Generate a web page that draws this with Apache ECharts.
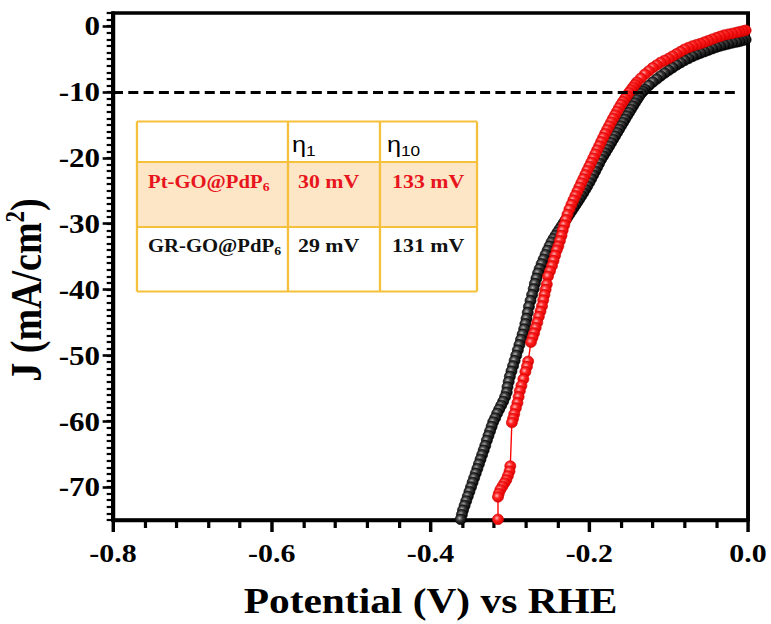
<!DOCTYPE html>
<html>
<head>
<meta charset="utf-8">
<script src="https://cdn.jsdelivr.net/npm/echarts@6/dist/echarts.min.js"></script>
<style>
  html, body { margin: 0; padding: 0; background: #fff; overflow: hidden; }
  /* the figure is laid out on a narrower canvas and widened horizontally */
  #chart { width: 670.4px; height: 624px; transform: scaleX(1.15); transform-origin: 0 0; }
</style>
</head>
<body>
<div id="chart"></div>
<script>
// Tick labels
const xTickValues = [-0.8, -0.6, -0.4, -0.2, 0.0];
const yTickValues = [-70, -60, -50, -40, -30, -20, -10, 0];

// Reference current density for the overpotential at 10 mA/cm2
const refCurrent = -10;
const refLineEnd = -0.0125;

// LSV scan, Pt-GO@PdP6: [potential (V vs RHE), J (mA/cm2)]
const scanPt = [
  [-0.003,-0.62],[-0.007,-0.75],[-0.011,-0.86],[-0.015,-0.97],[-0.020,-1.10],[-0.025,-1.22],
  [-0.030,-1.35],[-0.035,-1.55],[-0.040,-1.75],[-0.045,-1.97],[-0.050,-2.20],[-0.055,-2.42],
  [-0.060,-2.65],[-0.065,-2.82],[-0.070,-3.00],[-0.075,-3.25],[-0.080,-3.50],[-0.085,-3.85],
  [-0.090,-4.20],[-0.095,-4.55],[-0.100,-4.90],[-0.105,-5.20],[-0.110,-5.50],[-0.115,-5.90],
  [-0.120,-6.30],[-0.125,-6.80],[-0.130,-7.30],[-0.135,-7.90],[-0.140,-8.50],[-0.1425,-8.90],
  [-0.145,-9.30],[-0.1475,-9.70],[-0.150,-10.10],[-0.1525,-10.55],[-0.155,-11.00],[-0.1575,-11.45],
  [-0.160,-11.90],[-0.1625,-12.42],[-0.165,-12.95],[-0.1675,-13.48],[-0.170,-14.00],[-0.1725,-14.58],
  [-0.175,-15.15],[-0.1775,-15.72],[-0.180,-16.30],[-0.1825,-16.92],[-0.185,-17.55],[-0.1875,-18.18],
  [-0.190,-18.80],[-0.1925,-19.42],[-0.195,-20.05],[-0.1975,-20.68],[-0.200,-21.30],[-0.2025,-21.92],
  [-0.205,-22.55],[-0.2075,-23.18],[-0.210,-23.80],[-0.2125,-24.45],[-0.215,-25.10],[-0.2175,-25.75],
  [-0.220,-26.40],[-0.2225,-27.10],[-0.225,-27.80],[-0.2275,-28.60],[-0.2295,-29.40],[-0.2315,-30.20],
  [-0.2335,-31.00],[-0.235,-31.80],[-0.237,-32.60],[-0.239,-33.40],[-0.241,-34.00],[-0.243,-34.80],
  [-0.245,-35.60],[-0.247,-36.40],[-0.2495,-37.20],[-0.252,-38.00],[-0.2535,-39.20],[-0.255,-40.00],
  [-0.2565,-40.80],[-0.258,-41.60],[-0.2595,-42.50],[-0.2615,-43.30],[-0.2635,-44.10],[-0.2655,-45.00],
  [-0.2675,-45.80],[-0.2695,-46.60],[-0.2715,-47.30],[-0.2735,-48.00],[-0.277,-50.90],[-0.2785,-51.70],
  [-0.2805,-52.50],[-0.283,-53.60],[-0.2855,-54.60],[-0.2875,-55.40],[-0.289,-56.30],[-0.2905,-57.20],
  [-0.2925,-58.00],[-0.2945,-58.90],[-0.296,-59.60],[-0.2975,-60.20],[-0.2995,-66.80],[-0.3005,-67.60],
  [-0.3025,-68.30],[-0.3045,-68.90],[-0.307,-69.40],[-0.3095,-69.90],[-0.312,-70.40],[-0.314,-71.00],
  [-0.315,-71.50],[-0.315,-74.90]
];

// LSV scan, GR-GO@PdP6: [potential (V vs RHE), J (mA/cm2)]
const scanGr = [
  [-0.003,-2.05],[-0.007,-2.18],[-0.011,-2.32],[-0.015,-2.42],[-0.020,-2.55],[-0.025,-2.70],
  [-0.030,-2.85],[-0.035,-3.02],[-0.040,-3.20],[-0.045,-3.42],[-0.050,-3.65],[-0.055,-3.88],
  [-0.060,-4.10],[-0.065,-4.35],[-0.070,-4.60],[-0.075,-4.90],[-0.080,-5.20],[-0.085,-5.55],
  [-0.090,-5.90],[-0.095,-6.30],[-0.100,-6.70],[-0.105,-7.12],[-0.110,-7.56],[-0.115,-8.03],
  [-0.120,-8.50],[-0.125,-9.02],[-0.130,-9.60],[-0.1325,-9.92],[-0.135,-10.25],[-0.1375,-10.70],
  [-0.140,-11.17],[-0.1425,-11.65],[-0.145,-12.14],[-0.1475,-12.64],[-0.150,-13.14],[-0.1525,-13.64],
  [-0.155,-14.14],[-0.1575,-14.65],[-0.160,-15.16],[-0.1625,-15.67],[-0.165,-16.18],[-0.1675,-16.69],
  [-0.170,-17.20],[-0.1725,-17.71],[-0.175,-18.22],[-0.1775,-18.73],[-0.180,-19.24],[-0.1825,-19.72],
  [-0.185,-20.22],[-0.1875,-20.82],[-0.190,-21.42],[-0.1925,-22.02],[-0.195,-22.60],[-0.1975,-23.18],
  [-0.200,-23.74],[-0.2025,-24.28],[-0.205,-24.80],[-0.2075,-25.30],[-0.210,-25.78],[-0.2125,-26.25],
  [-0.215,-26.72],[-0.2175,-27.18],[-0.220,-27.64],[-0.2225,-28.10],[-0.225,-28.56],[-0.2275,-29.02],
  [-0.230,-29.48],[-0.2325,-29.94],[-0.235,-30.40],[-0.2375,-30.86],[-0.240,-31.32],[-0.2425,-31.80],
  [-0.245,-32.28],[-0.2475,-32.80],[-0.250,-33.40],[-0.2525,-34.05],[-0.255,-34.70],[-0.2575,-35.40],
  [-0.260,-36.10],[-0.2625,-36.85],[-0.2645,-37.50],[-0.2665,-38.30],[-0.2685,-39.10],[-0.270,-39.90],
  [-0.272,-40.80],[-0.274,-41.70],[-0.276,-42.60],[-0.2775,-43.50],[-0.279,-44.40],[-0.2805,-45.20],
  [-0.282,-46.00],[-0.284,-46.80],[-0.286,-47.60],[-0.288,-48.40],[-0.290,-49.20],[-0.292,-50.00],
  [-0.294,-50.80],[-0.296,-51.60],[-0.298,-52.40],[-0.300,-53.20],[-0.3015,-54.00],[-0.303,-54.80],
  [-0.304,-55.60],[-0.306,-56.30],[-0.3085,-57.00],[-0.311,-57.60],[-0.3135,-58.20],[-0.316,-58.80],
  [-0.3185,-59.50],[-0.321,-60.10],[-0.323,-60.80],[-0.325,-61.50],[-0.327,-62.20],[-0.329,-62.90],
  [-0.331,-63.70],[-0.333,-64.40],[-0.335,-65.10],[-0.337,-65.80],[-0.339,-66.50],[-0.341,-67.20],
  [-0.343,-67.90],[-0.345,-68.60],[-0.347,-69.30],[-0.349,-70.00],[-0.351,-70.70],[-0.353,-71.40],
  [-0.355,-72.10],[-0.357,-72.80],[-0.359,-73.50],[-0.3605,-74.20],[-0.362,-74.90]
];

// Overpotential table
const tableHeader = ['', '1', '10'];
const tableRows = [
  { name: 'Pt-GO@PdP', sub: '6', eta1: '30 mV', eta10: '133 mV', color: '#e8151c' },
  { name: 'GR-GO@PdP', sub: '6', eta1: '29 mV', eta10: '131 mV', color: '#111111' }
];

const SERIF = 'Liberation Serif';
const SANS = 'Liberation Sans';

function ball(light, mid, dark) {
  return {
    type: 'radial', x: 0.4, y: 0.38, r: 0.65,
    colorStops: [
      { offset: 0, color: light },
      { offset: 0.4, color: mid },
      { offset: 1, color: dark }
    ]
  };
}

// table geometry
const tx = [119.1, 250.4, 330.4, 414.8];
const ty = [121.5, 162, 227, 291.5];
const borderColor = '#f5c03c';

const tableGraphics = [];
tableGraphics.push({ type: 'rect', shape: { x: tx[0], y: ty[0], width: tx[3] - tx[0], height: ty[3] - ty[0] }, style: { fill: '#ffffff' }, z: 10 });
tableGraphics.push({ type: 'rect', shape: { x: tx[0], y: ty[1], width: tx[3] - tx[0], height: ty[2] - ty[1] }, style: { fill: '#fde6c6' }, z: 11 });
ty.forEach(function (y) {
  tableGraphics.push({ type: 'line', shape: { x1: tx[0], y1: y, x2: tx[3], y2: y }, style: { stroke: borderColor, lineWidth: 2 }, z: 12 });
});
tx.forEach(function (x) {
  tableGraphics.push({ type: 'line', shape: { x1: x, y1: ty[0], x2: x, y2: ty[3] }, style: { stroke: borderColor, lineWidth: 2 }, z: 12 });
});
// header: eta with subscripts
[[253.9, tableHeader[1]], [336.5, tableHeader[2]]].forEach(function (h) {
  tableGraphics.push({
    type: 'text', x: h[0], y: 145, z: 13,
    style: {
      text: '{e|η}{s|' + h[1] + '}',
      verticalAlign: 'middle', align: 'left',
      rich: {
        e: { fontFamily: SANS, fontSize: 22, lineHeight: 26, fill: '#000' },
        s: { fontFamily: SANS, fontSize: 15, lineHeight: 15, verticalAlign: 'bottom', fill: '#000' }
      }
    }
  });
});
const rowY = [182, 246];
tableRows.forEach(function (r, i) {
  const y = rowY[i];
  tableGraphics.push({
    type: 'text', x: 128.7, y: y, z: 13,
    style: {
      text: '{n|' + r.name + '}{s|' + r.sub + '}',
      verticalAlign: 'middle', align: 'left',
      rich: {
        n: { fontFamily: SERIF, fontWeight: 'bold', fontSize: 18, lineHeight: 22, fill: r.color },
        s: { fontFamily: SERIF, fontWeight: 'bold', fontSize: 12, lineHeight: 12, verticalAlign: 'bottom', fill: r.color }
      }
    }
  });
  tableGraphics.push({
    type: 'text', x: 259.1, y: y, z: 13,
    style: { text: r.eta1, fontFamily: SERIF, fontWeight: 'bold', fontSize: 19, fill: r.color, verticalAlign: 'middle', align: 'left' }
  });
  tableGraphics.push({
    type: 'text', x: 340.9, y: y, z: 13,
    style: { text: r.eta10, fontFamily: SERIF, fontWeight: 'bold', fontSize: 19, fill: r.color, verticalAlign: 'middle', align: 'left' }
  });
});

// y-axis title
const yTitle = {
  type: 'text', x: 23.5, y: 290, rotation: Math.PI / 2, z: 20,
  style: {
    text: '{a|J (mA/cm}{b|2}{a|)}',
    align: 'center', verticalAlign: 'middle',
    rich: {
      a: { fontFamily: SERIF, fontWeight: 'bold', fontSize: 38, lineHeight: 44, fill: '#000' },
      b: { fontFamily: SERIF, fontWeight: 'bold', fontSize: 23, lineHeight: 32, verticalAlign: 'top', fill: '#000' }
    }
  }
};

const gridRect = { left: 98.26, top: 13, width: 552.2, height: 507 };

const chart = echarts.init(document.getElementById('chart'), null, { renderer: 'svg' });

const option = {
  animation: false,
  backgroundColor: '#ffffff',
  grid: [
    Object.assign({ show: true, borderColor: '#000', borderWidth: 3.4, backgroundColor: 'transparent' }, gridRect),
    Object.assign({ show: false }, gridRect)
  ],
  xAxis: [
    {
      type: 'value', gridIndex: 0, min: -0.8, max: 0, interval: 0.2, position: 'bottom',
      name: 'Potential (V) vs RHE', nameLocation: 'middle', nameGap: 62,
      nameTextStyle: { fontFamily: SERIF, fontWeight: 'bold', fontSize: 36, color: '#000' },
      axisLine: { show: true, onZero: false, lineStyle: { color: '#000', width: 3.4 } },
      axisTick: { show: true, length: 12, customValues: xTickValues, lineStyle: { color: '#000', width: 3 } },
      minorTick: { show: true, splitNumber: 5, length: 8, lineStyle: { color: '#000', width: 2.8 } },
      axisLabel: {
        customValues: xTickValues, margin: 20,
        fontFamily: SERIF, fontWeight: 'bold', fontSize: 26, color: '#000',
        formatter: function (v) { return Number(v).toFixed(1); }
      },
      splitLine: { show: false }, minorSplitLine: { show: false }
    },
    {
      type: 'value', gridIndex: 1, min: -0.8, max: 0, position: 'bottom', show: false,
      axisLine: { onZero: false }
    }
  ],
  yAxis: [
    {
      // unit ticks along the left axis line
      type: 'value', gridIndex: 0, min: -75, max: 2, interval: 1, position: 'left', offset: 0,
      axisLine: { show: true, onZero: false, lineStyle: { color: '#000', width: 3.4 } },
      axisTick: { show: true, inside: false, length: 5.5, lineStyle: { color: '#000', width: 2.2 } },
      axisLabel: { show: false },
      splitLine: { show: false }
    },
    {
      // labelled ticks every 10 mA/cm2
      type: 'value', gridIndex: 1, min: -75, max: 2, position: 'left', offset: 0,
      axisLine: { show: false, onZero: false },
      axisTick: { show: true, inside: false, length: 9, customValues: yTickValues, lineStyle: { color: '#000', width: 2.6 } },
      axisLabel: {
        customValues: yTickValues, margin: 11.3,
        fontFamily: SERIF, fontWeight: 'bold', fontSize: 27, color: '#000'
      },
      splitLine: { show: false }
    }
  ],
  series: [
    {
      name: 'GR-GO@PdP6', type: 'line', xAxisIndex: 0, yAxisIndex: 0,
      data: scanGr,
      showSymbol: true, showAllSymbol: true,
      symbol: 'circle', symbolSize: [9.6, 10.5],
      itemStyle: { color: ball('#b8b8b8', '#3a3a3a', '#000000'), borderColor: '#000', borderWidth: 0.6 },
      lineStyle: { color: '#000', width: 1 },
      z: 3,
      markLine: {
        silent: true, symbol: ['none', 'none'], label: { show: false },
        lineStyle: { color: '#000', width: 3, type: [8.7, 4.6] },
        data: [[{ coord: [-0.8, refCurrent] }, { coord: [refLineEnd, refCurrent] }]]
      }
    },
    {
      name: 'Pt-GO@PdP6', type: 'line', xAxisIndex: 0, yAxisIndex: 0,
      data: scanPt,
      showSymbol: true, showAllSymbol: true,
      symbol: 'circle', symbolSize: [9.6, 10.5],
      itemStyle: { color: ball('#ffb6b6', '#ff2020', '#e00000'), borderColor: '#d00000', borderWidth: 0.6 },
      lineStyle: { color: '#ff0000', width: 1.2 },
      z: 4
    }
  ],
  graphic: tableGraphics.concat([yTitle])
};

chart.setOption(option);
</script>
</body>
</html>
